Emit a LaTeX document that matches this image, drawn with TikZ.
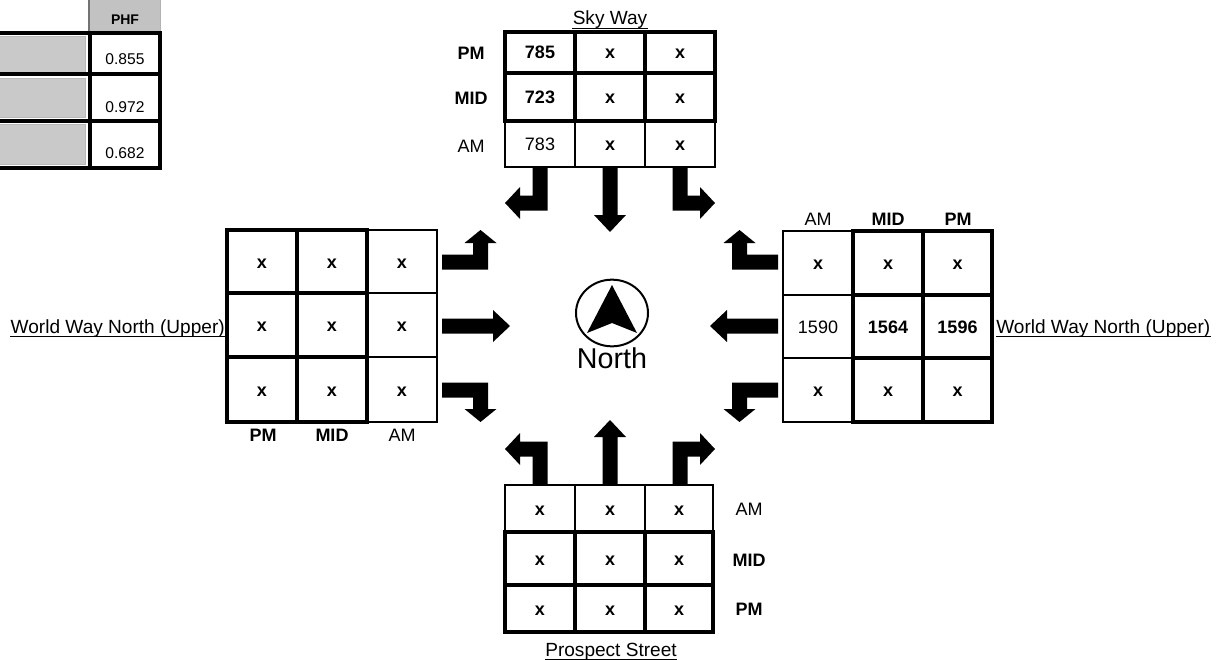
\documentclass[tikz,border=0pt]{standalone}
\usepackage{fontspec}
\setmainfont{Liberation Sans}
\newcommand{\cellbox}[8]{%
  \draw[#6] (#2,#3) rectangle (#4,#5);
  \node[#7] (#1) at ({(#2+#4)/2},{(#3+#5)/2+6.5}) {#8};}
\newcommand{\underln}[1]{\draw[line width=0.9pt] ([yshift=-2.6pt]#1.base west) -- ([yshift=-2.6pt]#1.base east);}
\def\aw{7.5}
\def\ah{16}
% #1 C, #2 vb, #3 D, #4 L, #5 v0, #6 sb, #7 st
\newcommand{\approacharrows}[7]{%
  \fill[black] ({-#1+\aw},{#5}) -- ({-#1+\aw},{#2+\aw}) -- ({-#1-#3},{#2+\aw}) -- ({-#1-#3},{#2+\ah}) -- ({-#1-#3-#4},{#2}) -- ({-#1-#3},{#2-\ah}) -- ({-#1-#3},{#2-\aw}) -- ({-#1-\aw},{#2-\aw}) -- ({-#1-\aw},{#5}) -- cycle;
  \fill[black] ({#1-\aw},{#5}) -- ({#1-\aw},{#2+\aw}) -- ({#1+#3},{#2+\aw}) -- ({#1+#3},{#2+\ah}) -- ({#1+#3+#4},{#2}) -- ({#1+#3},{#2-\ah}) -- ({#1+#3},{#2-\aw}) -- ({#1+\aw},{#2-\aw}) -- ({#1+\aw},{#5}) -- cycle;
  \fill[black] ({-\aw},{#5}) -- ({-\aw},{#6}) -- ({-\ah},{#6}) -- (0,{#7}) -- ({\ah},{#6}) -- ({\aw},{#6}) -- ({\aw},{#5}) -- cycle;}
\begin{document}
\begin{tikzpicture}[x=0.75pt,y=-0.75pt,
  thincell/.style={draw=black, line width=1.2pt},
  thickcell/.style={draw=black, line width=3pt},
  celltxt/.style={font=\fontsize{13.5}{16}\selectfont, anchor=base, inner sep=0pt},
  cellbold/.style={font=\fontsize{13.5}{16}\selectfont\bfseries, anchor=base, inner sep=0pt},
  lbl/.style={font=\fontsize{13.5}{16}\selectfont, anchor=base, inner sep=0pt},
  lblb/.style={font=\fontsize{13.5}{16}\selectfont\bfseries, anchor=base, inner sep=0pt},
  road/.style={font=\fontsize{14.3}{17}\selectfont, inner sep=0pt},
  phfline/.style={line width=3pt, draw=black},
  greycell/.style={fill=black!21, draw=black!28, line width=0.6pt}]
\useasboundingbox[fill=white] (0,0) rectangle (1222,660);

% ---------- PHF table ----------
\fill[black!24] (90,0) rectangle (160,32);
\draw[black!55, line width=0.8pt] (89,0) -- (89,32);
\draw[black!30, line width=0.6pt] (160,0) -- (160,32);
\node[font=\fontsize{10.5}{12}\selectfont\bfseries, anchor=base, inner sep=0pt] (phf) at (125,25) {PHF};
\filldraw[greycell] (-2,36) rectangle (85,72);
\filldraw[greycell] (-2,78) rectangle (85,117);
\filldraw[greycell] (-2,124) rectangle (85,164);
\draw[phfline] (0,33.5) -- (162,33.5);
\draw[phfline] (0,74.5) -- (162,74.5);
\draw[phfline] (0,121) -- (162,121);
\draw[phfline] (0,167.5) -- (162,167.5);
\draw[phfline] (90,32) -- (90,169);
\draw[phfline] (160,32) -- (160,169);
\node[font=\fontsize{11.7}{14}\selectfont, anchor=base, inner sep=0pt] (phfa) at (125,65) {0.855};
\node[font=\fontsize{11.7}{14}\selectfont, anchor=base, inner sep=0pt] (phfb) at (125,113) {0.972};
\node[font=\fontsize{11.7}{14}\selectfont, anchor=base, inner sep=0pt] (phfc) at (125,159) {0.682};

% ---------- arrows ----------
\begin{scope}[shift={(610,167)}]
  \approacharrows{70}{36}{20}{15}{0}{48}{65}
\end{scope}
\begin{scope}[shift={(610,485)}, yscale=-1]
  \approacharrows{70}{36}{20}{15}{0}{48}{65}
\end{scope}
\begin{scope}[shift={(437,326)}, yscale=-1, rotate=90]
  \approacharrows{64}{43.5}{19}{13}{5}{56}{73}
\end{scope}
\begin{scope}[shift={(783,326)}, rotate=-90]
  \approacharrows{64}{43.5}{19}{13}{5}{56}{73}
\end{scope}

% ---------- Sky Way (top) ----------
\cellbox{sa1}{505}{121}{575}{167}{thincell}{celltxt}{783}
\cellbox{sa2}{575}{121}{645}{167}{thincell}{cellbold}{x}
\cellbox{sa3}{645}{121}{715}{167}{thincell}{cellbold}{x}
\cellbox{sp1}{505}{32}{575}{73}{thickcell}{cellbold}{785}
\cellbox{sp2}{575}{32}{645}{73}{thickcell}{cellbold}{x}
\cellbox{sp3}{645}{32}{715}{73}{thickcell}{cellbold}{x}
\cellbox{sm1}{505}{73}{575}{121}{thickcell}{cellbold}{723}
\cellbox{sm2}{575}{73}{645}{121}{thickcell}{cellbold}{x}
\cellbox{sm3}{645}{73}{715}{121}{thickcell}{cellbold}{x}
\node[lblb] (spm) at (471,60) {PM};
\node[lblb] (smid) at (471,105) {MID};
\node[lbl] (sam) at (471,152) {AM};
\node[road, anchor=base] (sky) at (610,25) {Sky Way};
\underln{sky}

% ---------- West ----------
\cellbox{wa1}{367}{230}{437}{293}{thincell}{cellbold}{x}
\cellbox{wa2}{367}{293}{437}{357}{thincell}{cellbold}{x}
\cellbox{wa3}{367}{357}{437}{422}{thincell}{cellbold}{x}
\cellbox{wp1}{227}{230}{297}{293}{thickcell}{cellbold}{x}
\cellbox{wp2}{227}{293}{297}{357}{thickcell}{cellbold}{x}
\cellbox{wp3}{227}{357}{297}{422}{thickcell}{cellbold}{x}
\cellbox{wm1}{297}{230}{367}{293}{thickcell}{cellbold}{x}
\cellbox{wm2}{297}{293}{367}{357}{thickcell}{cellbold}{x}
\cellbox{wm3}{297}{357}{367}{422}{thickcell}{cellbold}{x}
\node[lblb] (wpm) at (263,441) {PM};
\node[lblb] (wmid) at (332,441) {MID};
\node[lbl] (wam) at (402,441) {AM};
\node[road, anchor=base east] (wroad) at (225,333) {World Way North (Upper)};
\underln{wroad}

% ---------- East ----------
\cellbox{ea1}{783}{231}{853}{295}{thincell}{cellbold}{x}
\cellbox{ea2}{783}{295}{853}{358}{thincell}{celltxt}{1590}
\cellbox{ea3}{783}{358}{853}{422}{thincell}{cellbold}{x}
\cellbox{em1}{853}{231}{923}{295}{thickcell}{cellbold}{x}
\cellbox{em2}{853}{295}{923}{358}{thickcell}{cellbold}{1564}
\cellbox{em3}{853}{358}{923}{422}{thickcell}{cellbold}{x}
\cellbox{ep1}{923}{231}{992}{295}{thickcell}{cellbold}{x}
\cellbox{ep2}{923}{295}{992}{358}{thickcell}{cellbold}{1596}
\cellbox{ep3}{923}{358}{992}{422}{thickcell}{cellbold}{x}
\node[lbl] (eam) at (818,225) {AM};
\node[lblb] (emid) at (888,225) {MID};
\node[lblb] (epm) at (958,225) {PM};
\node[road, anchor=base west] (eroad) at (996,333) {World Way North (Upper)};
\underln{eroad}

% ---------- Prospect Street (bottom) ----------
\cellbox{pa1}{505}{485}{575}{532}{thincell}{cellbold}{x}
\cellbox{pa2}{575}{485}{645}{532}{thincell}{cellbold}{x}
\cellbox{pa3}{645}{485}{713}{532}{thincell}{cellbold}{x}
\cellbox{pm1}{505}{532}{575}{585}{thickcell}{cellbold}{x}
\cellbox{pm2}{575}{532}{645}{585}{thickcell}{cellbold}{x}
\cellbox{pm3}{645}{532}{713}{585}{thickcell}{cellbold}{x}
\cellbox{pp1}{505}{585}{575}{632}{thickcell}{cellbold}{x}
\cellbox{pp2}{575}{585}{645}{632}{thickcell}{cellbold}{x}
\cellbox{pp3}{645}{585}{713}{632}{thickcell}{cellbold}{x}
\node[lbl] (pam) at (749,515) {AM};
\node[lblb] (pmid) at (749,566) {MID};
\node[lblb] (ppm) at (749,615) {PM};
\node[road, anchor=base] (pros) at (611,656) {Prospect Street};
\underln{pros}

% ---------- compass ----------
\draw[line width=1.5pt] (612,313) ellipse [x radius=27pt, y radius=25pt];
\fill[black] (612,285) -- (637,333) -- (612,323) -- (587,333) -- cycle;
\node[font=\fontsize{21.5}{24}\selectfont, anchor=base, inner sep=0pt] (north) at (612,368) {North};
\end{tikzpicture}
\end{document}
